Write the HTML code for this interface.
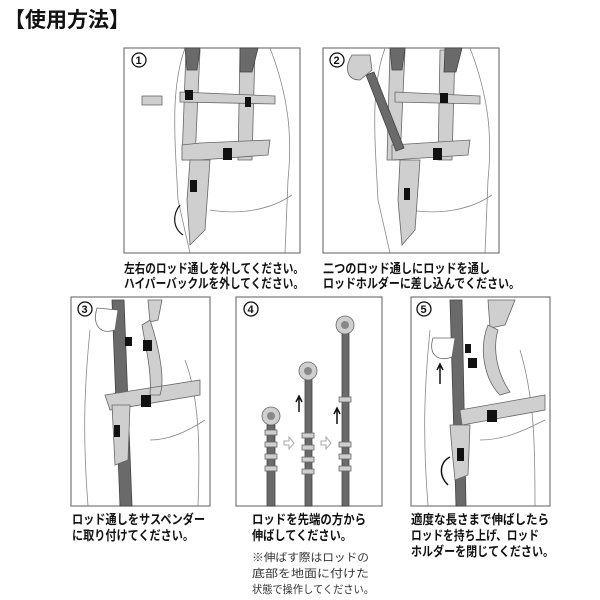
<!DOCTYPE html>
<html><head><meta charset="utf-8"><style>
body{margin:0;width:600px;height:600px;background:#fff;overflow:hidden}
svg{display:block}
text{font-family:"Liberation Sans","Noto Sans CJK JP",sans-serif;fill:#111}
.cap{font-size:13px;font-weight:bold}
.note{font-size:11px;fill:#333}
.box{fill:#fff;stroke:#777;stroke-width:1.2}
.ln{fill:none;stroke:#888;stroke-width:0.8}
.st{fill:#cfcfcf;stroke:#666;stroke-width:0.8}
.dk{fill:#6a6a6a;stroke:#444;stroke-width:0.8}
.bk{fill:#111}
.num{font-size:11px;font-weight:bold}
</style></head><body>
<svg width="600" height="600" viewBox="0 0 600 600">
<text x="4" y="27" style="font-size:21px;font-weight:bold">【使用方法】</text>

<!-- Panel 1 -->
<rect class="box" x="124" y="48" width="176" height="205"/>
<g>
<path class="ln" d="M185 48 C170 90 175 140 178 200 L190 253 M270 48 C290 100 292 140 288 180 L285 253 M210 210 C240 215 270 210 292 195"/>
<path class="st" d="M186 50 L200 50 L195 160 L182 160Z M240 50 L255 50 L252 160 L238 160Z"/>
<path class="dk" d="M185 48 L200 48 L197 70 L187 70Z M240 48 L258 48 L252 72 L240 72Z"/>
<path class="st" d="M180 92 L275 96 L275 104 L180 102Z M182 145 L200 143 L270 140 L268 155 L200 160 L182 160Z"/>
<path class="st" d="M190 160 L210 160 L205 230 L190 245 L187 200Z"/>
<rect class="bk" x="190" y="180" width="7" height="12"/>
<rect class="bk" x="223" y="148" width="9" height="12"/><rect class="bk" x="185" y="90" width="8" height="10"/><rect class="bk" x="245" y="97" width="6" height="10"/>
<rect class="st" x="142" y="96" width="20" height="9"/>
<path d="M180 205 C172 215 173 228 183 235" fill="none" stroke="#111" stroke-width="1.2"/>
</g>
<circle cx="139" cy="60" r="7" fill="#fff" stroke="#111" stroke-width="1.3"/><text class="num" x="135.5" y="64">1</text>

<!-- Panel 2 -->
<rect class="box" x="323" y="48" width="176" height="205"/>
<g>
<path class="ln" d="M385 48 C370 90 375 140 378 200 L390 253 M470 48 C490 100 492 140 488 180 L485 253 M410 210 C440 215 470 210 492 195"/>
<path class="st" d="M390 50 L405 50 L400 160 L387 160Z M440 50 L455 50 L452 160 L438 160Z"/>
<path class="dk" d="M390 48 L405 48 L402 70 L392 70Z M445 48 L462 48 L456 72 L444 72Z"/>
<path class="st" d="M395 92 L480 96 L480 104 L395 102Z M392 145 L470 140 L468 155 L392 160Z"/>
<path class="dk" d="M366 75 L374 72 L404 148 L396 151Z"/>
<path class="st" d="M400 160 L420 160 L415 230 L402 245 L398 200Z"/>
<rect class="bk" x="404" y="188" width="6" height="12"/><rect class="bk" x="433" y="148" width="9" height="12"/><rect class="bk" x="440" y="93" width="8" height="10"/>
<path class="st" d="M352 55 C345 65 345 80 360 80 L372 70 L370 55Z"/>
</g>
<circle cx="337" cy="60" r="7" fill="#fff" stroke="#111" stroke-width="1.3"/><text class="num" x="333.5" y="64">2</text>

<text class="cap" x="124" y="273" textLength="180" lengthAdjust="spacingAndGlyphs">左右のロッド通しを外してください。</text>
<text class="cap" x="124" y="288" textLength="180" lengthAdjust="spacingAndGlyphs">ハイパーバックルを外してください。</text>
<text class="cap" x="323" y="273" textLength="167" lengthAdjust="spacingAndGlyphs">二つのロッド通しにロッドを通し</text>
<text class="cap" x="323" y="288" textLength="197" lengthAdjust="spacingAndGlyphs">ロッドホルダーに差し込んでください。</text>

<!-- Panel 3 -->
<rect class="box" x="71" y="297" width="139" height="209"/>
<g>
<path class="ln" d="M90 330 C85 380 82 430 88 506 M185 360 C200 400 200 450 198 506 M150 440 C170 440 190 430 205 420"/>
<path class="dk" d="M112 300 L124 300 L132 506 L120 506Z"/>
<path class="st" d="M148 300 L162 300 L158 320 L150 322Z"/>
<path class="st" d="M150 320 C160 350 165 380 160 395 L150 395 C152 370 145 345 142 325Z M105 395 L200 380 L200 395 L110 410Z"/>
<path class="st" d="M112 405 L130 405 L128 460 L115 465Z"/>
<rect class="bk" x="114" y="425" width="6" height="12"/><rect class="bk" x="141" y="395" width="10" height="12"/><rect class="bk" x="143" y="340" width="9" height="11"/><rect class="bk" x="125" y="337" width="7" height="9"/>
<path d="M97 308 C92 325 100 335 115 330 L118 310Z" fill="#fff" stroke="#666" stroke-width="0.8"/>
</g>
<circle cx="85" cy="309" r="7" fill="#fff" stroke="#111" stroke-width="1.3"/><text class="num" x="81.5" y="313">3</text>

<!-- Panel 4 -->
<rect class="box" x="236" y="297" width="146" height="209"/>
<g>
<rect class="dk" x="267" y="425" width="8" height="81"/>
<circle cx="271" cy="416" r="9" class="st"/><circle cx="271" cy="416" r="4" fill="#888"/>
<rect class="st" x="265" y="430" width="12" height="5"/><rect class="st" x="265" y="442" width="12" height="5"/><rect class="st" x="265" y="454" width="12" height="5"/><rect class="st" x="265" y="466" width="12" height="5"/>
<rect class="dk" x="305" y="378" width="7" height="128"/>
<circle cx="308" cy="371" r="9" class="st"/><circle cx="308" cy="371" r="4" fill="#888"/>
<rect class="st" x="302" y="433" width="12" height="5"/><rect class="st" x="302" y="445" width="12" height="5"/><rect class="st" x="302" y="457" width="12" height="5"/><rect class="st" x="302" y="469" width="12" height="5"/>
<rect class="dk" x="342" y="330" width="7" height="176"/>
<circle cx="345" cy="325" r="9" class="st"/><circle cx="345" cy="325" r="4" fill="#888"/>
<rect class="st" x="339" y="397" width="12" height="5"/><rect class="st" x="339" y="442" width="12" height="5"/><rect class="st" x="339" y="454" width="12" height="5"/><rect class="st" x="339" y="466" width="12" height="5"/>
<path d="M299 398 L299 412 M296 402 L299 396 L302 402" stroke="#111" stroke-width="1.5" fill="none"/>
<path d="M337 410 L337 424 M334 414 L337 408 L340 414" stroke="#111" stroke-width="1.5" fill="none"/>
<path d="M284 441 L289 441 L289 437 L294 443 L289 449 L289 445 L284 445Z M321 441 L326 441 L326 437 L331 443 L326 449 L326 445 L321 445Z" fill="#fff" stroke="#aaa"/>
</g>
<circle cx="251" cy="309" r="7" fill="#fff" stroke="#111" stroke-width="1.3"/><text class="num" x="247.5" y="313">4</text>

<!-- Panel 5 -->
<rect class="box" x="411" y="297" width="139" height="209"/>
<g>
<path class="ln" d="M430 330 C425 380 422 430 428 506 M520 350 C535 400 535 450 535 506 M480 440 C505 440 525 430 545 420"/>
<path class="dk" d="M450 300 L462 300 L466 506 L456 506Z"/>
<path class="st" d="M488 300 L515 300 L505 325 L490 328Z"/>
<path class="st" d="M488 325 C478 350 485 380 500 395 L510 392 C498 375 492 350 498 330Z M460 410 L545 395 L545 410 L462 425Z"/>
<path class="st" d="M450 425 L470 425 L468 475 L455 480 L452 450Z"/>
<rect class="bk" x="457" y="448" width="7" height="13"/><rect class="bk" x="487" y="410" width="10" height="12"/><rect class="bk" x="468" y="358" width="9" height="10"/><rect class="bk" x="465" y="344" width="6" height="9"/>
<path d="M433 338 C428 355 438 362 452 357 L455 338Z" fill="#fff" stroke="#666" stroke-width="0.8"/>
<path d="M440 384 L440 366 M437 370 L440 364 L443 370" stroke="#111" stroke-width="1.5" fill="none"/>
<path d="M448 485 C438 475 440 462 450 457" stroke="#111" stroke-width="1.5" fill="none"/>
</g>
<circle cx="424" cy="309" r="7" fill="#fff" stroke="#111" stroke-width="1.3"/><text class="num" x="420.5" y="313">5</text>

<text class="cap" x="72" y="524" textLength="133" lengthAdjust="spacingAndGlyphs">ロッド通しをサスペンダー</text>
<text class="cap" x="72" y="540" textLength="122" lengthAdjust="spacingAndGlyphs">に取り付けてください。</text>
<text class="cap" x="252" y="524" textLength="114" lengthAdjust="spacingAndGlyphs">ロッドを先端の方から</text>
<text class="cap" x="252" y="540" textLength="100" lengthAdjust="spacingAndGlyphs">伸ばしてください。</text>
<text class="note" x="252" y="561" textLength="117" lengthAdjust="spacingAndGlyphs">※伸ばす際はロッドの</text>
<text class="note" x="252" y="577" textLength="117" lengthAdjust="spacingAndGlyphs">底部を地面に付けた</text>
<text class="note" x="252" y="593" textLength="122" lengthAdjust="spacingAndGlyphs">状態で操作してください。</text>
<text class="cap" x="411" y="524" textLength="138" lengthAdjust="spacingAndGlyphs">適度な長さまで伸ばしたら</text>
<text class="cap" x="411" y="540" textLength="128" lengthAdjust="spacingAndGlyphs">ロッドを持ち上げ、ロッド</text>
<text class="cap" x="411" y="556" textLength="143" lengthAdjust="spacingAndGlyphs">ホルダーを閉じてください。</text>
</svg>
</body></html>
